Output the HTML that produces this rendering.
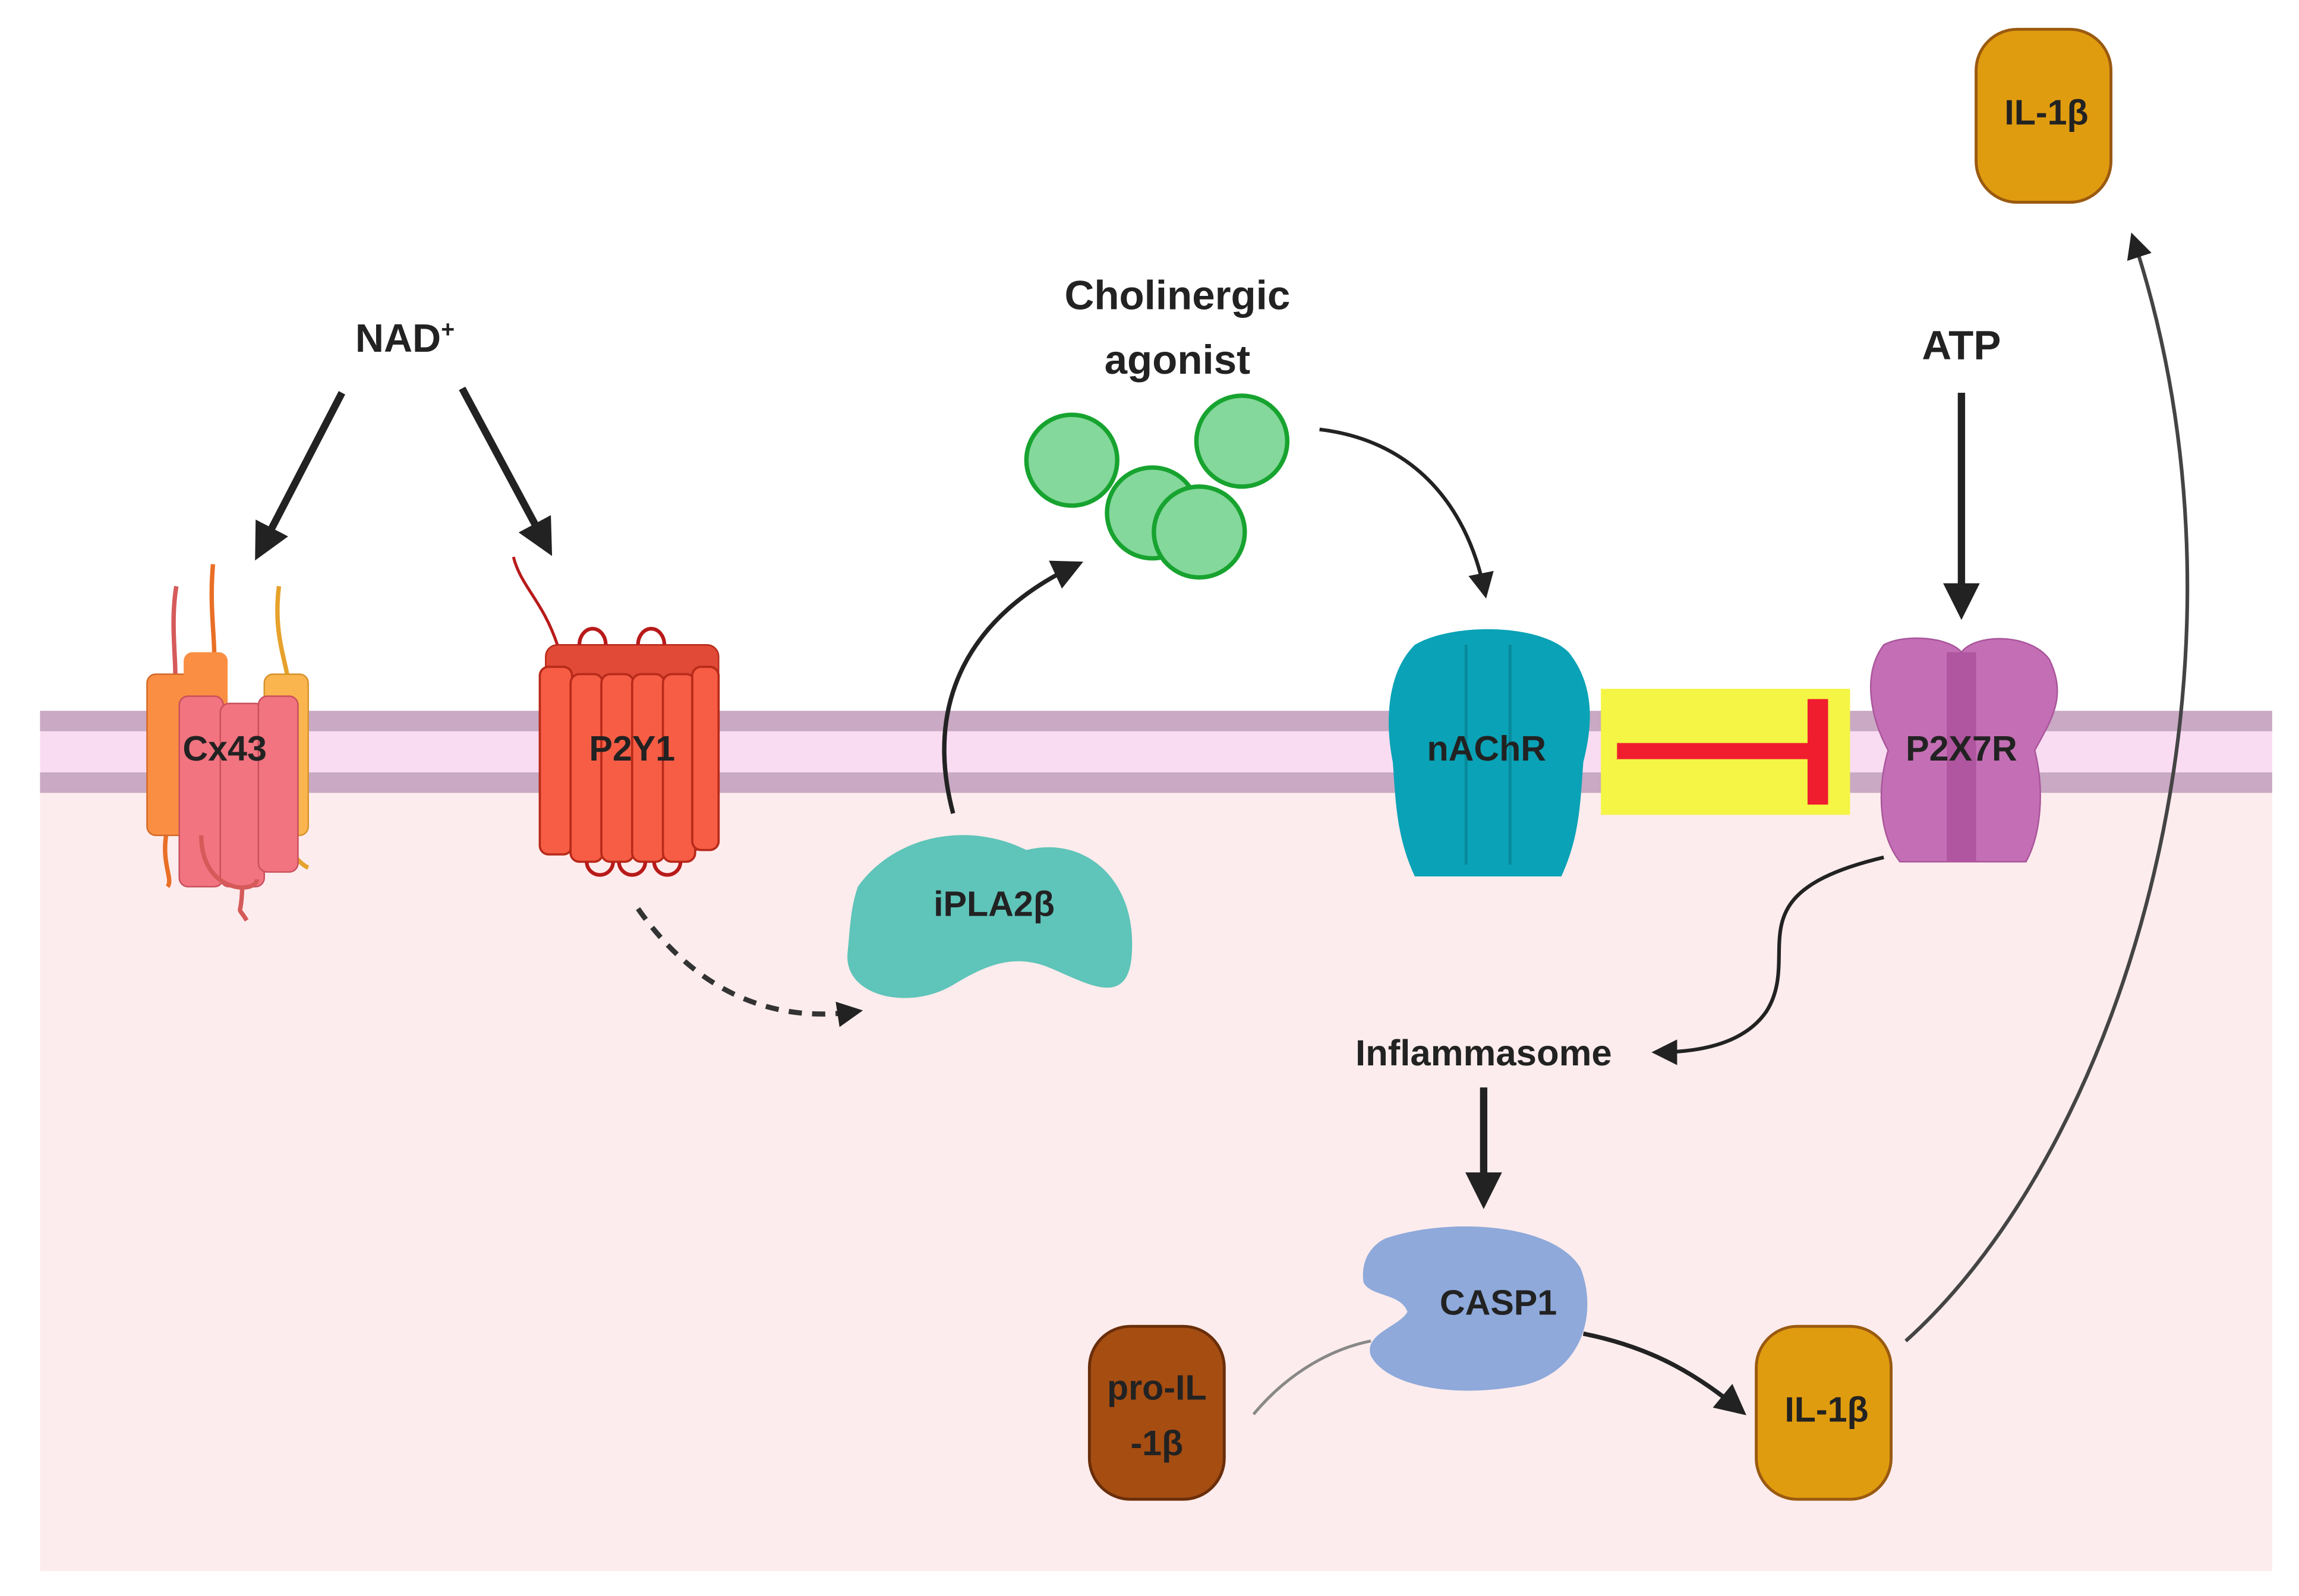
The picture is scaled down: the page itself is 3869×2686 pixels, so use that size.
<!DOCTYPE html>
<html><head><style>
html,body{margin:0;padding:0;background:#fff;}
svg{display:block;}
text{font-family:"Liberation Sans",sans-serif;font-weight:bold;fill:#222;text-anchor:middle;}
</style></head><body>
<svg width="3869" height="2686" viewBox="0 0 1568 1089" xmlns="http://www.w3.org/2000/svg">
<defs>
<marker id="ah" viewBox="0 0 10 10" refX="8" refY="5" markerWidth="5" markerHeight="5" orient="auto"><path d="M0,0 L10,5 L0,10 z" fill="#222"/></marker>
<marker id="ah2" viewBox="0 0 10 10" refX="8" refY="5" markerWidth="7" markerHeight="7" orient="auto"><path d="M0,0 L10,5 L0,10 z" fill="#222"/></marker>
</defs>
<rect x="0" y="0" width="1568" height="1089" fill="#fff"/>
<rect x="27" y="540" width="1523" height="532" fill="#fdeced"/>
<rect x="27" y="485" width="1523" height="14" fill="#c9a9c3"/>
<rect x="27" y="499" width="1523" height="28" fill="#f9dcf2"/>
<rect x="27" y="527" width="1523" height="14" fill="#c9a9c3"/>

<!-- NAD arrows -->
<text x="276" y="240" font-size="27">NAD<tspan font-size="16" dy="-10">+</tspan></text>
<line x1="233" y1="268" x2="176" y2="378" stroke="#222" stroke-width="5" marker-end="url(#ah)"/>
<line x1="315" y1="265" x2="374" y2="375" stroke="#222" stroke-width="5" marker-end="url(#ah)"/>

<!-- Cx43 -->
<g stroke-width="3" fill="none">
<path d="M120,400 C115,430 122,460 118,470" stroke="#d65a5a"/>
<path d="M145,385 C142,420 148,440 145,460" stroke="#e96f26"/>
<path d="M190,400 C185,440 200,460 195,470" stroke="#e7a22b"/>
<path d="M113,570 C110,590 118,600 114,605" stroke="#e96f26"/>
<path d="M165,600 C165,630 160,615 168,628" stroke="#d65a5a"/>
<path d="M195,570 C195,580 205,590 210,592" stroke="#e7a22b"/>
</g>
<rect x="100" y="460" width="30" height="110" rx="6" fill="#fa8f43" stroke="#d26a2a"/>
<rect x="180" y="460" width="30" height="110" rx="6" fill="#fbb54f" stroke="#d6932b"/>
<rect x="125" y="445" width="30" height="40" rx="6" fill="#fa8f43"/>
<rect x="122" y="475" width="30" height="130" rx="6" fill="#f17480" stroke="#c9505c"/>
<rect x="150" y="480" width="30" height="125" rx="6" fill="#f17480" stroke="#c9505c"/>
<rect x="176" y="475" width="27" height="120" rx="6" fill="#f17480" stroke="#c9505c"/>
<path d="M137,570 C137,610 175,610 175,600" stroke="#d65a5a" stroke-width="3" fill="none"/>
<text x="153" y="519" font-size="24">Cx43</text>

<!-- P2Y1 -->
<path d="M350,380 C355,400 370,410 380,440" stroke="#b81a1a" stroke-width="2" fill="none"/>
<rect x="372" y="440" width="118" height="140" rx="8" fill="#e04a36" stroke="#b82a1a"/>
<g fill="#f75d45" stroke="#b82a1a" stroke-width="1.5">
<rect x="368" y="455" width="22" height="128" rx="6"/>
<rect x="389" y="460" width="22" height="128" rx="6"/>
<rect x="410" y="460" width="22" height="128" rx="6"/>
<rect x="431" y="460" width="22" height="128" rx="6"/>
<rect x="452" y="460" width="22" height="128" rx="6"/>
<rect x="472" y="455" width="18" height="125" rx="6"/>
</g>
<g stroke="#b81a1a" stroke-width="2.5" fill="none">
<path d="M400,588 a9,9 0 0 0 18,0"/><path d="M422,588 a9,9 0 0 0 18,0"/><path d="M446,588 a9,9 0 0 0 18,0"/>
<path d="M395,440 a9,11 0 0 1 18,0"/><path d="M435,440 a9,11 0 0 1 18,0"/>
</g>
<text x="431" y="519" font-size="24">P2Y1</text>

<path d="M435,620 C470,670 520,700 585,690" stroke="#333" stroke-width="3.5" stroke-dasharray="9,7" fill="none" marker-end="url(#ah)"/>

<!-- iPLA2b -->
<path d="M585,605 C610,570 660,560 700,580 C740,570 775,600 772,650 C770,690 740,670 715,660 C690,650 670,660 650,672 C620,690 575,680 578,650 C580,630 580,620 585,605 Z" fill="#5fc4b9"/>
<text x="678" y="625" font-size="24">iPLA2β</text>
<path d="M650,555 C630,480 660,420 735,385" stroke="#222" stroke-width="3" fill="none" marker-end="url(#ah2)"/>

<!-- Cholinergic -->
<text x="803" y="211" font-size="28">Cholinergic</text>
<text x="803" y="255" font-size="28">agonist</text>
<g fill="#84d89b" stroke="#17a32f" stroke-width="3">
<circle cx="731" cy="314" r="31"/>
<circle cx="847" cy="301" r="31"/>
<circle cx="786" cy="350" r="31"/>
<circle cx="818" cy="363" r="31"/>
</g>
<path d="M900,293 C960,300 1000,340 1013,405" stroke="#222" stroke-width="2.5" fill="none" marker-end="url(#ah2)"/>

<!-- nAChR -->
<path d="M965,440 C990,425 1050,425 1070,445 C1090,470 1085,500 1080,520 C1078,545 1078,570 1065,598 L965,598 C952,570 952,545 950,520 C945,495 945,460 965,440 Z" fill="#0aa2b6"/>
<path d="M1000,440 L1000,590 M1030,440 L1030,590" stroke="#078a9b" stroke-width="2"/>
<text x="1014" y="519" font-size="24">nAChR</text>

<!-- inhibition -->
<rect x="1092" y="470" width="170" height="86" fill="#f4f545"/>
<rect x="1103" y="507" width="137" height="11" fill="#f01d2e"/>
<rect x="1233" y="477" width="14" height="72" fill="#f01d2e"/>

<!-- P2X7R -->
<text x="1338" y="245" font-size="28">ATP</text>
<line x1="1338" y1="268" x2="1338" y2="418" stroke="#222" stroke-width="5" marker-end="url(#ah)"/>
<path d="M1285,440 C1300,432 1330,435 1338,445 C1348,432 1385,432 1398,450 C1410,475 1400,490 1388,512 C1395,540 1392,570 1382,588 L1296,588 C1282,570 1280,540 1288,512 C1276,490 1270,460 1285,440 Z" fill="#c46fb5" stroke="#a9559b"/>
<rect x="1328" y="445" width="20" height="143" fill="#b0559f"/>
<text x="1338" y="519" font-size="24">P2X7R</text>

<path d="M1285,585 C1180,610 1230,650 1205,690 C1190,712 1160,718 1130,718" stroke="#222" stroke-width="2.5" fill="none" marker-end="url(#ah2)"/>
<text x="1012" y="727" font-size="25">Inflammasome</text>
<line x1="1012" y1="742" x2="1012" y2="820" stroke="#222" stroke-width="5" marker-end="url(#ah)"/>

<!-- CASP1 -->
<path d="M945,845 C990,830 1060,835 1078,865 C1090,895 1080,935 1040,945 C990,955 945,945 935,925 C930,910 955,905 960,895 C955,882 935,885 930,875 C928,860 935,850 945,845 Z" fill="#8ea9da"/>
<text x="1022" y="897" font-size="24">CASP1</text>
<path d="M855,965 C880,935 910,920 935,915" stroke="#888" stroke-width="2" fill="none"/>
<path d="M1080,910 C1130,920 1160,940 1188,963" stroke="#222" stroke-width="3" fill="none" marker-end="url(#ah2)"/>

<rect x="743" y="905" width="92" height="118" rx="28" fill="#a64d12" stroke="#6a2e0a" stroke-width="2"/>
<text x="789" y="955" font-size="24">pro-IL</text>
<text x="789" y="993" font-size="24">-1β</text>

<rect x="1198" y="905" width="92" height="118" rx="28" fill="#e09c0f" stroke="#9a5a10" stroke-width="2"/>
<text x="1246" y="970" font-size="24">IL-1β</text>

<path d="M1300,915 C1450,780 1550,450 1455,162" stroke="#444" stroke-width="2.5" fill="none" marker-end="url(#ah2)"/>

<rect x="1348" y="20" width="92" height="118" rx="28" fill="#e09c0f" stroke="#9a5a10" stroke-width="2"/>
<text x="1396" y="85" font-size="24">IL-1β</text>
</svg>
</body></html>
